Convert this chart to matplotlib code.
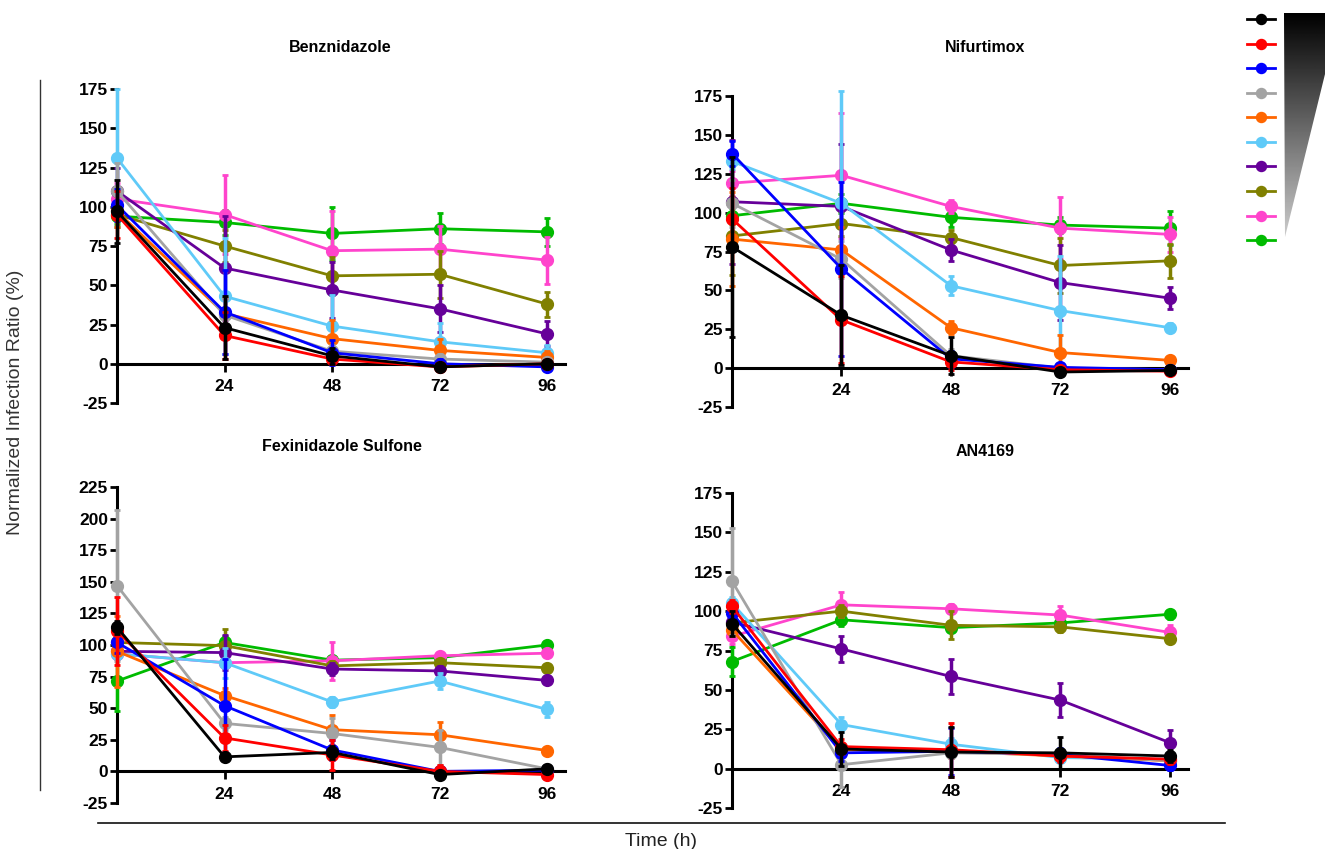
import numpy as np
import matplotlib
matplotlib.use('Agg')
import matplotlib.pyplot as plt
from matplotlib.patches import Polygon

plt.rcParams['font.family'] = ['Liberation Sans', 'DejaVu Sans']
plt.rcParams['axes.unicode_minus'] = False

# time points (h)
hours = [0, 24, 48, 72, 96]
tick_hours = [24, 48, 72, 96]

# series order: black, red, blue, gray, orange, light blue, purple, olive, pink, green
colors = ['#000000', '#ff0000', '#0000ff', '#a3a3a3', '#ff6600',
          '#5fcaf8', '#660099', '#808000', '#ff44cc', '#00bb00']

titles = ['Benznidazole', 'Nifurtimox', 'Fexinidazole Sulfone', 'AN4169']

# Benznidazole
benz_mean = [[97, 23, 5, -2, 0],
             [95, 18, 3, -2, 0],
             [101, 33, 7, 0, -2],
             [110, 31, 8, 3, 1],
             [97, 32, 16, 8.5, 4],
             [131, 43, 24, 14, 7],
             [110, 61, 47, 35, 19],
             [95, 75, 56, 57, 38],
             [105, 95, 72, 73, 66],
             [94, 90, 83, 86, 84]]
benz_err = [[20, 20, 5, 2, 2],
            [15, 15, 3, 2, 2],
            [10, 27, 8, 3, 2],
            [18, 10, 4, 3, 2],
            [10, 10, 12, 7, 4],
            [44, 37, 20, 12, 5],
            [15, 33, 18, 15, 8],
            [8, 10, 12, 15, 8],
            [10, 25, 25, 15, 15],
            [5, 8, 17, 10, 9]]

# Nifurtimox
nif_mean = [[78, 34, 8, -2.5, -1.5],
            [96, 31, 4, -1, -2],
            [138, 64, 6, 0.5, -1],
            [106, 70, 8, 0, -1],
            [83, 76, 26, 10, 5],
            [133, 106, 53, 37, 26],
            [107, 104, 76, 55, 45],
            [85, 93, 84, 66, 69],
            [119, 124, 104, 90, 86],
            [98, 106, 97, 92, 90]]
nif_err = [[58, 32, 12, 2, 2],
           [20, 28, 5, 2, 2],
           [8, 56, 5, 2, 2],
           [15, 12, 4, 2, 2],
           [30, 15, 4, 11, 3],
           [5, 72, 6, 35, 3],
           [40, 40, 7, 24, 7],
           [25, 8, 5, 18, 11],
           [8, 40, 4, 20, 11],
           [5, 6, 6, 5, 11]]

# Fexinidazole Sulfone
fex_mean = [[114, 11.5, 15, -2.5, 2],
            [111, 26.5, 13, 0, -2.5],
            [102, 52, 17, 0, 1],
            [147, 38, 30, 19, 2],
            [95, 60, 33, 29, 16.5],
            [93, 86, 55, 71.5, 49],
            [95, 94, 81, 79.5, 72],
            [102, 99.5, 83.5, 86, 82],
            [93, 86, 87.5, 91.5, 93.5],
            [71.5, 102, 88, 90, 100]]
fex_err = [[5, 3, 5, 3, 2],
           [27, 10, 12, 5, 2],
           [8, 37, 8, 2, 2],
           [60, 5, 12, 14, 2],
           [28, 6, 12, 10, 3],
           [4, 12, 4, 6, 6],
           [5, 14, 5, 4, 3],
           [4, 13, 4, 3, 3],
           [4, 3, 15, 3, 3],
           [24, 5, 3, 3, 3]]

# AN4169
an_mean = [[92, 12.5, 10.5, 10, 8],
           [103, 14, 12, 8, 6],
           [99, 10, 11, 9, 2],
           [119, 2.5, 10, 9, 5],
           [88, 12, 11, 8, 5],
           [105, 28, 15.5, 7, 6],
           [93, 76, 58.5, 43.5, 16.5],
           [92.5, 100, 91, 90, 82.5],
           [84, 104, 101.5, 97.5, 86.5],
           [68, 94.5, 89.5, 92.5, 98]]
an_err = [[8, 11, 16, 10, 4],
          [4, 5, 17, 4, 3],
          [5, 5, 15, 4, 3],
          [34, 14, 3, 3, 3],
          [4, 4, 4, 3, 3],
          [4, 5, 4, 3, 3],
          [5, 8, 11, 11, 8],
          [4, 4, 9, 3, 3],
          [5, 8, 3, 6, 5],
          [9, 4, 3, 3, 3]]

W, H = 1325, 849
fig = plt.figure(figsize=(W / 100, H / 100), dpi=100)


# pixel box -> figure fraction
def px_axes(left, right, top, bottom):
    return fig.add_axes([left / W, 1 - bottom / H, (right - left) / W, (bottom - top) / H])


def draw_panel(ax, means, errs, ytop, yticks):
    handles = []
    # green drawn first, black last (on top)
    for i in reversed(range(len(means))):
        c = ax.errorbar(hours, means[i], yerr=errs[i], color=colors[i], marker='o',
                        markersize=8.5, linewidth=2.0, elinewidth=2.5, capsize=2,
                        capthick=2, clip_on=False, zorder=3 + (10 - i))
        handles.append(c[0])
    ax.set_xlim(0, 100)
    ax.set_ylim(-25, ytop)
    ax.spines['top'].set_visible(False)
    ax.spines['right'].set_visible(False)
    ax.spines['bottom'].set_position(('data', 0))
    ax.spines['left'].set_linewidth(2.2)
    ax.spines['bottom'].set_linewidth(2.2)
    ax.set_xticks(tick_hours)
    ax.set_yticks(yticks)
    ax.tick_params(axis='x', length=6, width=2, pad=5, labelsize=12.5)
    ax.tick_params(axis='y', length=5, width=2, pad=1.5, labelsize=12.5)
    for lab in ax.get_xticklabels() + ax.get_yticklabels():
        lab.set_fontweight('bold')
    ax.patch.set_alpha(0)
    return handles[::-1]


ax1 = px_axes(117, 565, 89, 403)
ax2 = px_axes(732, 1188, 96, 407)
ax3 = px_axes(117, 565, 487, 803)
ax4 = px_axes(732, 1188, 493, 808)

h = draw_panel(ax1, benz_mean, benz_err, 175, np.arange(-25, 176, 25))
draw_panel(ax2, nif_mean, nif_err, 175, np.arange(-25, 176, 25))
draw_panel(ax3, fex_mean, fex_err, 225, np.arange(-25, 226, 25))
draw_panel(ax4, an_mean, an_err, 175, np.arange(-25, 176, 25))

# titles
fig.text(340 / W, 1 - 47 / H, titles[0], ha='center', va='center', fontsize=11.5, fontweight='bold')
fig.text(985 / W, 1 - 47 / H, titles[1], ha='center', va='center', fontsize=11.5, fontweight='bold')
fig.text(342 / W, 1 - 447 / H, titles[2], ha='center', va='center', fontsize=11.5, fontweight='bold')
fig.text(985 / W, 1 - 452 / H, titles[3], ha='center', va='center', fontsize=11.5, fontweight='bold')

# shared labels
fig.text(16 / W, 1 - 402 / H, 'Normalized Infection Ratio (%)', rotation=90,
         ha='center', va='center', fontsize=14, color='#333333')
fig.text(661 / W, 1 - 841 / H, 'Time (h)', ha='center', va='center', fontsize=14, color='#222222')

# overlay for frame lines and concentration wedge
ov = fig.add_axes([0, 0, 1, 1], zorder=-1)
ov.axis('off')
ov.plot([40, 40], [80, 790], color='#333333', linewidth=1)
ov.plot([98, 1225], [823, 823], color='#111111', linewidth=1.2)
grad = np.linspace(0, 0.8, 256).reshape(-1, 1)
img = ov.imshow(grad, extent=[1284, 1340, 237, 13], cmap='gray', vmin=0, vmax=1, aspect='auto')
tri = Polygon([[1284, 13], [1340, 13], [1285, 237]], closed=True, transform=ov.transData)
img.set_clip_path(tri)
ov.set_xlim(0, W)
ov.set_ylim(H, 0)

# legend (no text, markers only)
fig.legend(h, [''] * len(h), loc='upper left', bbox_to_anchor=(1240 / W, 1 - 6 / H),
           frameon=False, handlelength=2.0, handletextpad=0, labelspacing=0.76,
           borderpad=0, fontsize=10, markerscale=0.85)

fig.savefig('out.png', dpi=100)
